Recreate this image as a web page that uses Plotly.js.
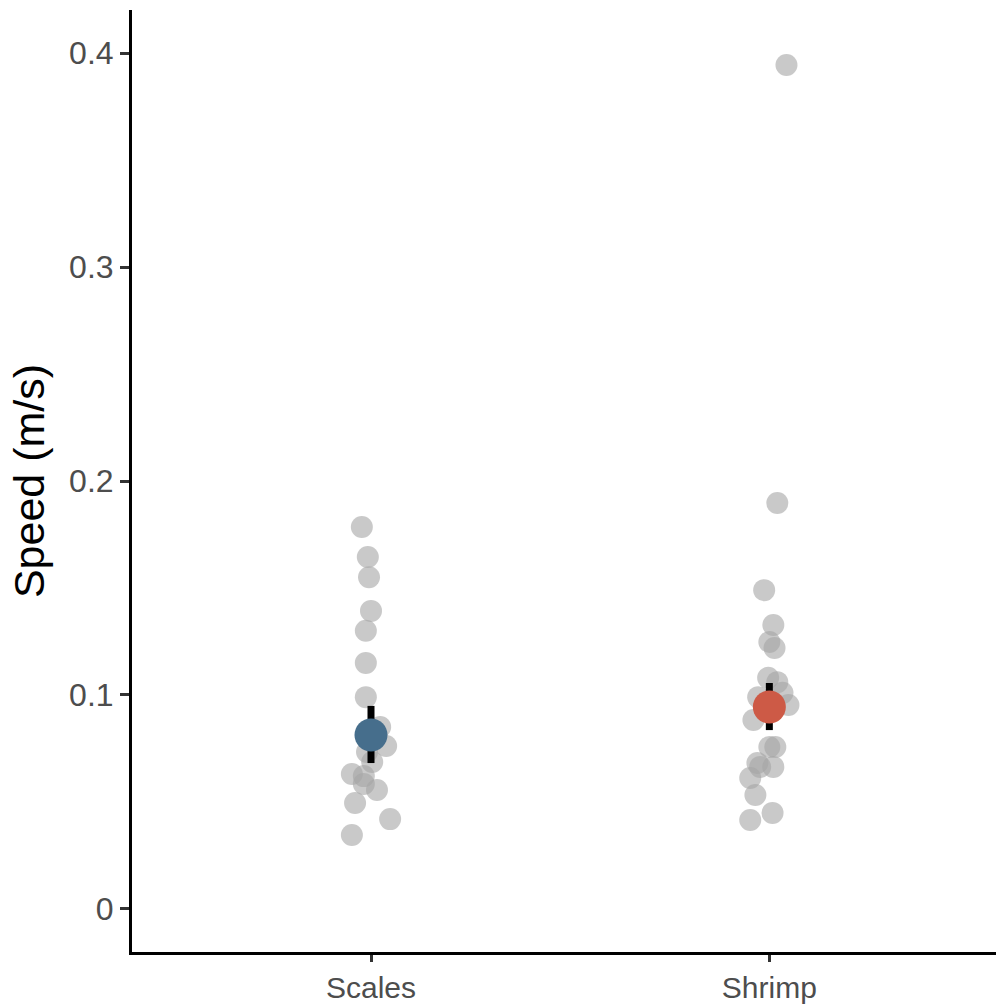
<!DOCTYPE html>
<html>
<head>
<meta charset="utf-8">
<script src="https://cdn.plot.ly/plotly-3.0.1.min.js"></script>
<style>html,body{margin:0;padding:0;background:#fff;}#chart{width:996px;height:1005px;}</style>
</head>
<body>
<div id="chart"></div>
<script>
// Data
const categories = ["Scales", "Shrimp"];
const scalesSpeed = [0.1785, 0.1645, 0.155, 0.1393, 0.130, 0.115, 0.099, 0.085, 0.0762, 0.0687, 0.0734, 0.0631, 0.0621, 0.0584, 0.0556, 0.0495, 0.042, 0.0346];
const scalesJitter = [-0.023, -0.008, -0.005, 0.000, -0.013, -0.013, -0.013, 0.023, 0.038, 0.003, -0.010, -0.048, -0.018, -0.018, 0.015, -0.040, 0.048, -0.048];
const shrimpSpeed = [0.3944, 0.1897, 0.149, 0.1327, 0.1248, 0.122, 0.108, 0.106, 0.099, 0.101, 0.0953, 0.0883, 0.0757, 0.0757, 0.0682, 0.0664, 0.0664, 0.0612, 0.0533, 0.0449, 0.0416];
const shrimpJitter = [0.043, 0.020, -0.013, 0.010, 0.000, 0.013, -0.003, 0.020, -0.028, 0.033, 0.048, -0.040, 0.000, 0.015, -0.030, -0.023, 0.010, -0.048, -0.035, 0.008, -0.048];
const meanSpeed = [0.0813, 0.0944];
const lowerSpeed = [0.0682, 0.0836];
const upperSpeed = [0.0949, 0.1056];
const meanColors = ["#466e8c", "#cd5a46"];

const jitterX = (idx, jit) => jit.map(j => idx + 1 + j);

const traces = [
  {
    type: "scatter", mode: "markers",
    x: jitterX(0, scalesJitter), y: scalesSpeed,
    marker: {size: 22, color: "rgba(165,165,165,0.6)", line: {width: 0}},
    hoverinfo: "y", showlegend: false
  },
  {
    type: "scatter", mode: "markers",
    x: jitterX(1, shrimpJitter), y: shrimpSpeed,
    marker: {size: 22, color: "rgba(165,165,165,0.6)", line: {width: 0}},
    hoverinfo: "y", showlegend: false
  }
];
categories.forEach((c, i) => {
  traces.push({
    type: "scatter", mode: "markers",
    x: [i + 1], y: [meanSpeed[i]],
    error_y: {type: "data", symmetric: false,
      array: [upperSpeed[i] - meanSpeed[i]],
      arrayminus: [meanSpeed[i] - lowerSpeed[i]],
      color: "#000000", thickness: 7, width: 0},
    marker: {size: 33, color: meanColors[i], line: {width: 0}},
    showlegend: false
  });
});

const layout = {
  width: 996, height: 1005,
  margin: {l: 132, r: 0, t: 10, b: 53},
  paper_bgcolor: "#ffffff", plot_bgcolor: "#ffffff",
  font: {family: "Liberation Sans, Arial, sans-serif", color: "#4d4d4d"},
  xaxis: {
    range: [0.4, 2.569], tickmode: "array", tickvals: [1, 2], ticktext: categories,
    showgrid: false, zeroline: false, showline: true, linecolor: "#000000", linewidth: 3,
    ticks: "outside", ticklen: 7, tickwidth: 3, tickcolor: "#333333",
    tickfont: {size: 30, color: "#4d4d4d"}
  },
  yaxis: {
    range: [-0.0201, 0.4201], tickvals: [0, 0.1, 0.2, 0.3, 0.4], ticktext: ["0", "0.1", "0.2", "0.3", "0.4"],
    showgrid: false, zeroline: false, showline: true, linecolor: "#000000", linewidth: 3,
    ticks: "outside", ticklen: 9, tickwidth: 3, tickcolor: "#333333",
    tickfont: {size: 32, color: "#4d4d4d"},
    title: {text: "Speed (m/s)", font: {size: 43, color: "#000000"}, standoff: 12}
  }
};

Plotly.newPlot("chart", traces, layout, {displayModeBar: false, staticPlot: true});
</script>
</body>
</html>
